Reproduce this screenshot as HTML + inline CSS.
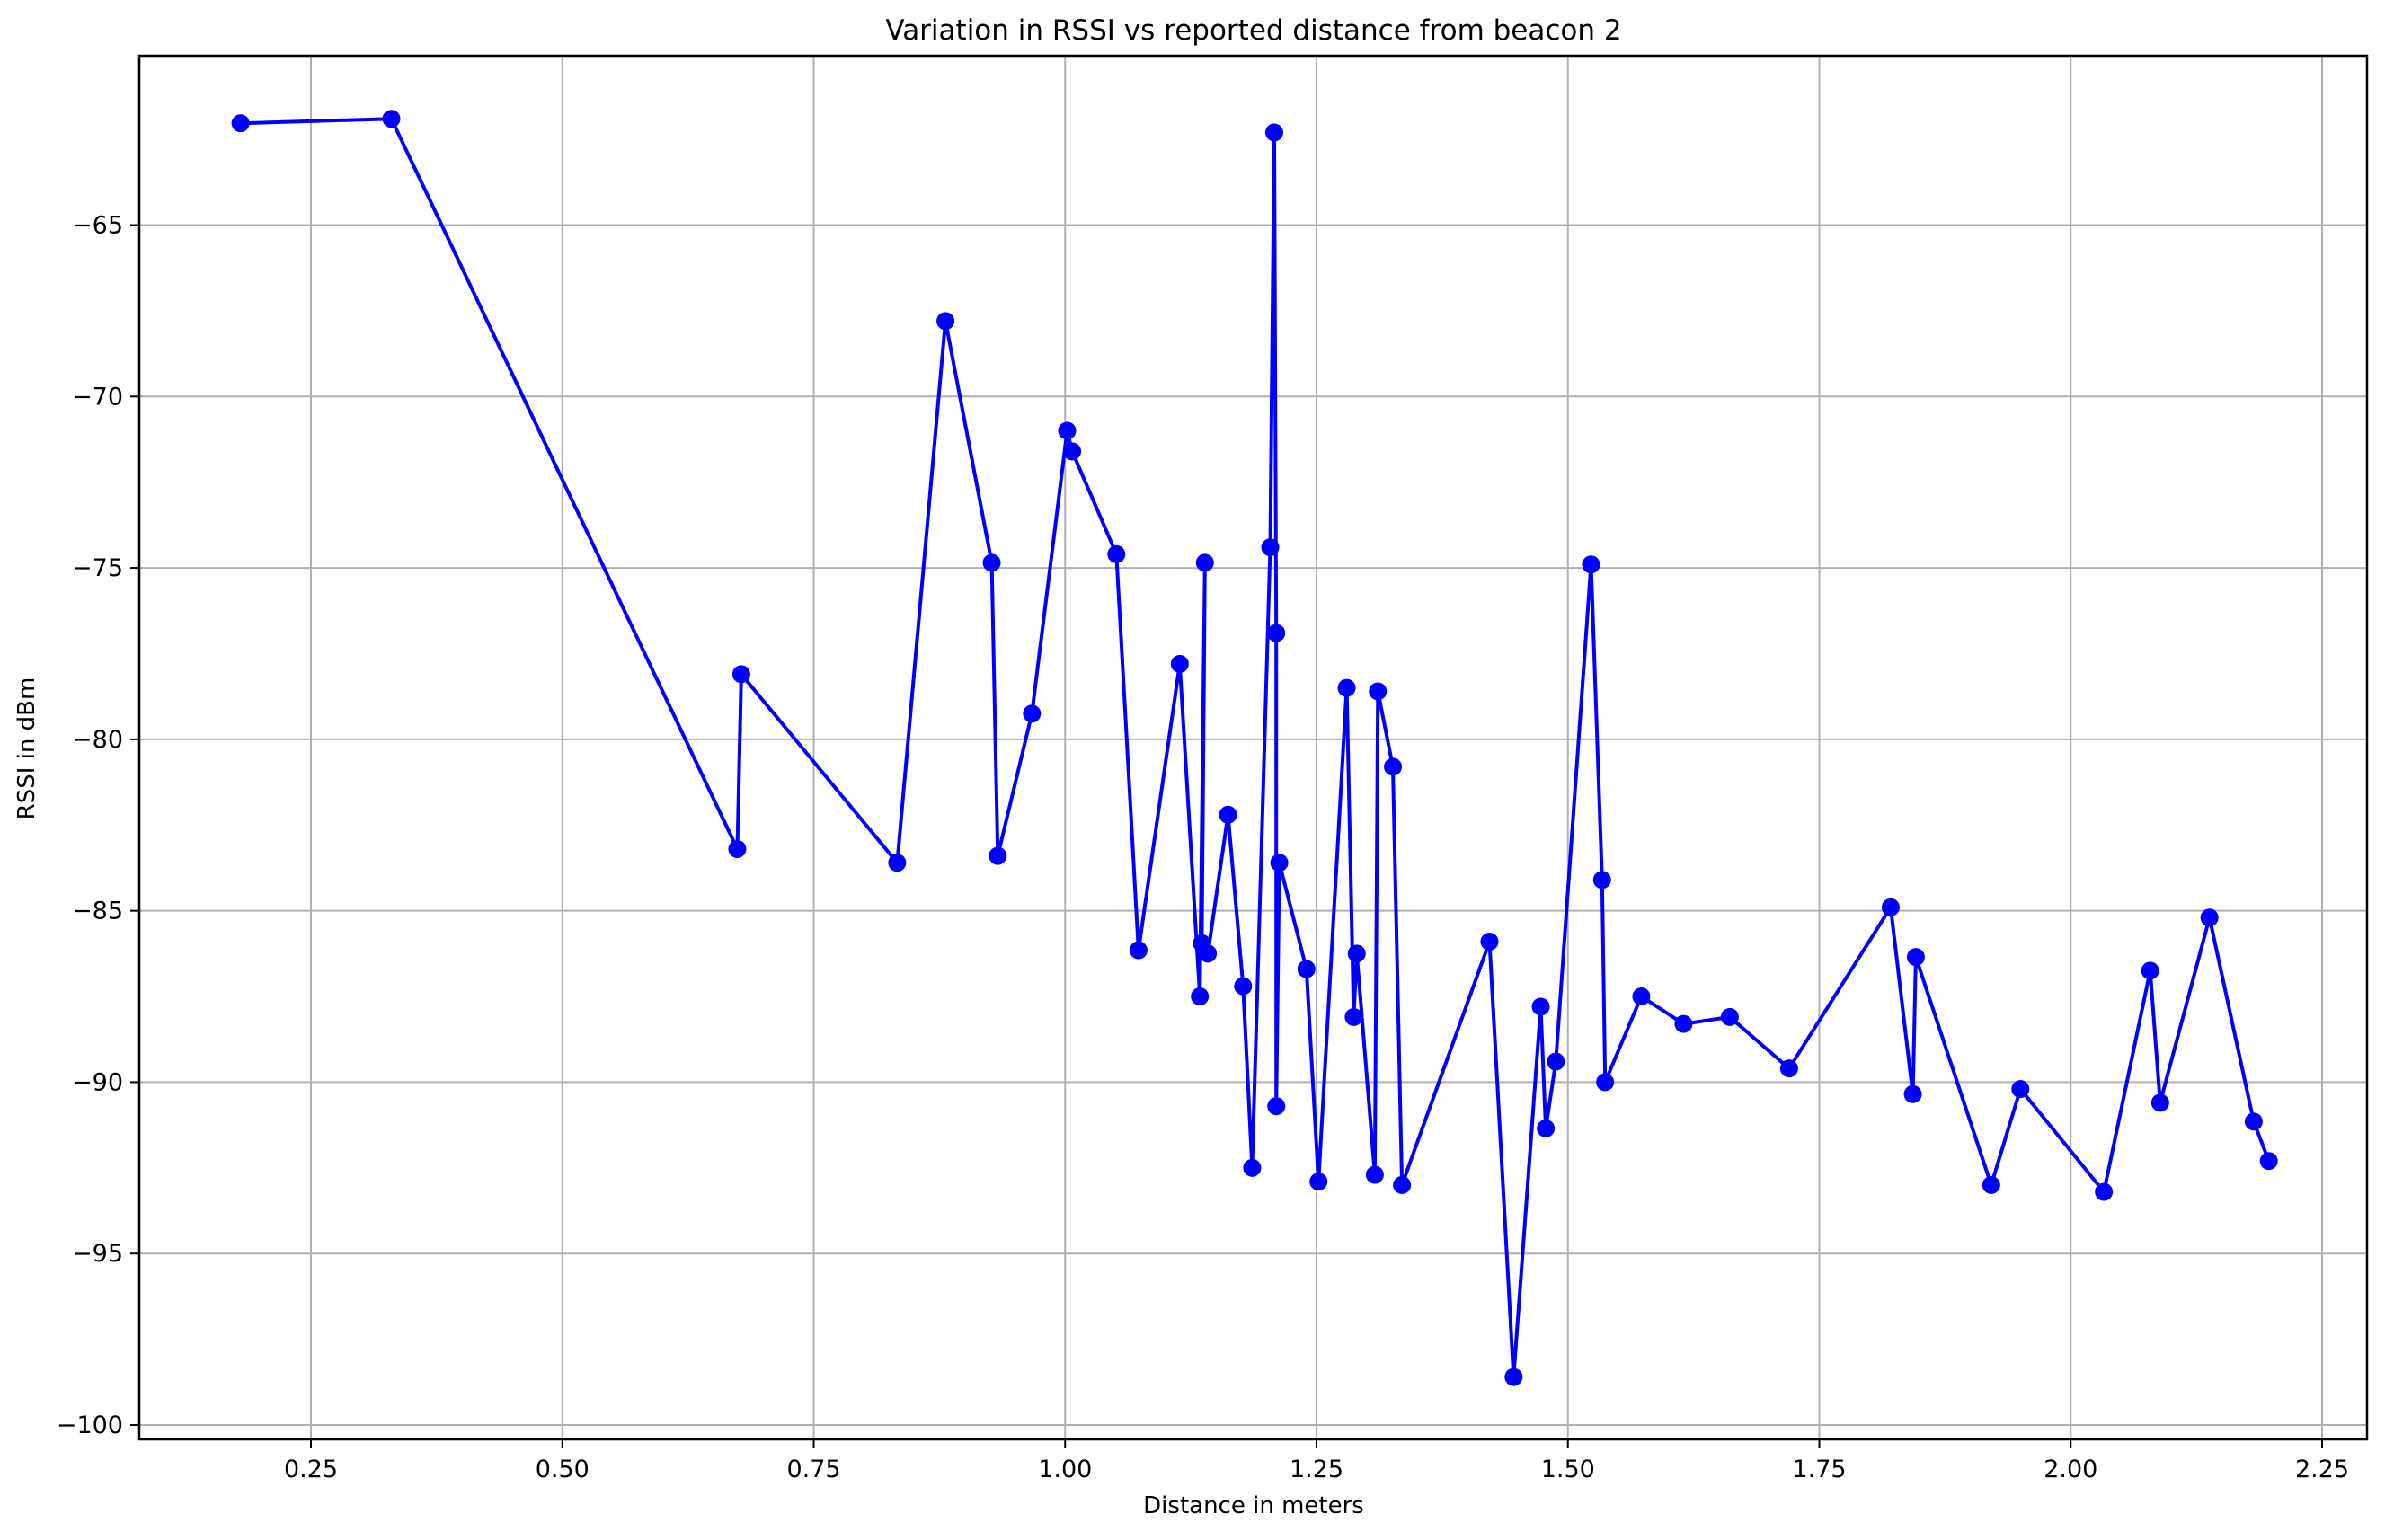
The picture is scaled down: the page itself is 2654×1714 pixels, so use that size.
<!DOCTYPE html>
<html><head><meta charset="utf-8"><style>
html,body{margin:0;padding:0;background:#fff;}
svg text{font-family:"DejaVu Sans","Liberation Sans",sans-serif;fill:#000;}
</style></head><body>
<svg id="chart" width="2654" height="1709" xmlns="http://www.w3.org/2000/svg">
<rect width="2654" height="1709" fill="#fff"/>
<g id="grid"></g><g id="ticks"></g><g id="series"></g>
<rect x="155" y="62" width="2479" height="1540" fill="none" stroke="#000" stroke-width="2.5"/>
<text x="1395" y="44" font-size="31" text-anchor="middle">Variation in RSSI vs reported distance from beacon 2</text>
<text x="1395" y="1684" font-size="26" text-anchor="middle">Distance in meters</text>
<text x="38" y="833" font-size="26" text-anchor="middle" transform="rotate(-90 38 833)">RSSI in dBm</text>
</svg>
<script>
const distances=[0.180,0.330,0.674,0.678,0.833,0.881,0.927,0.933,0.967,1.002,1.007,1.051,1.073,1.114,1.134,1.139,1.136,1.142,1.162,1.177,1.186,1.204,1.208,1.210,1.210,1.213,1.240,1.252,1.280,1.287,1.290,1.308,1.311,1.326,1.335,1.422,1.446,1.473,1.478,1.488,1.523,1.534,1.537,1.573,1.615,1.661,1.720,1.821,1.843,1.846,1.921,1.950,2.033,2.079,2.089,2.138,2.182,2.197];
const rssi=[-62.03,-61.9,-83.2,-78.1,-83.6,-67.8,-74.85,-83.4,-79.25,-71.0,-71.6,-74.6,-86.15,-77.8,-87.5,-74.85,-85.95,-86.25,-82.2,-87.2,-92.5,-74.4,-62.3,-76.9,-90.7,-83.6,-86.7,-92.9,-78.5,-88.1,-86.25,-92.7,-78.6,-80.8,-93.0,-85.9,-98.6,-87.8,-91.35,-89.4,-74.9,-84.1,-90.0,-87.5,-88.3,-88.1,-89.6,-84.9,-90.35,-86.35,-93.0,-90.2,-93.2,-86.75,-90.6,-85.2,-91.15,-92.3];
const xTicks=[0.25,0.50,0.75,1.00,1.25,1.50,1.75,2.00,2.25];
const xTickLabels=["0.25","0.50","0.75","1.00","1.25","1.50","1.75","2.00","2.25"];
const yTicks=[-65,-70,-75,-80,-85,-90,-95,-100];
const yTickLabels=["\u221265","\u221270","\u221275","\u221280","\u221285","\u221290","\u221295","\u2212100"];
const NS="http://www.w3.org/2000/svg";
function xs(v){return 346+(v-0.25)*1119;}
function ys(v){return 1586-(v+100)*38.157;}
function mk(tag,attrs,parent){const e=document.createElementNS(NS,tag);for(const k in attrs)e.setAttribute(k,attrs[k]);document.getElementById(parent).appendChild(e);return e;}
xTicks.forEach((t,i)=>{
  const g=mk('line',{x1:xs(t),x2:xs(t),y1:62,y2:1602,stroke:'#b0b0b0','stroke-width':2},'grid');
  
  
  const tk=mk('line',{x1:xs(t),x2:xs(t),y1:1602,y2:1612,stroke:'#000','stroke-width':2},'ticks');
  
  
  const tx=mk('text',{x:xs(t),y:1644,'font-size':27,'text-anchor':'middle'},'ticks');
  tx.textContent=xTickLabels[i];
  
  
});
yTicks.forEach((t,i)=>{
  const g=mk('line',{x1:155,x2:2634,y1:ys(t),y2:ys(t),stroke:'#b0b0b0','stroke-width':2},'grid');
  
  
  const tk=mk('line',{x1:145,x2:155,y1:ys(t),y2:ys(t),stroke:'#000','stroke-width':2},'ticks');
  
  
  const tx=mk('text',{x:137,y:ys(t)+9,'font-size':27,'text-anchor':'end'},'ticks');
  tx.textContent=yTickLabels[i];
  
  
});
const pts=distances.map((d,i)=>xs(d).toFixed(1)+','+ys(rssi[i]).toFixed(1)).join(' ');
const line=mk('polyline',{points:pts,fill:'none',stroke:'#0000ff','stroke-width':4,'stroke-linejoin':'round'},'series');


distances.forEach((d,i)=>{
  const c=mk('circle',{cx:xs(d),cy:ys(rssi[i]),r:10,fill:'#0000ff'},'series');
  
  
});
</script>
</body></html>
